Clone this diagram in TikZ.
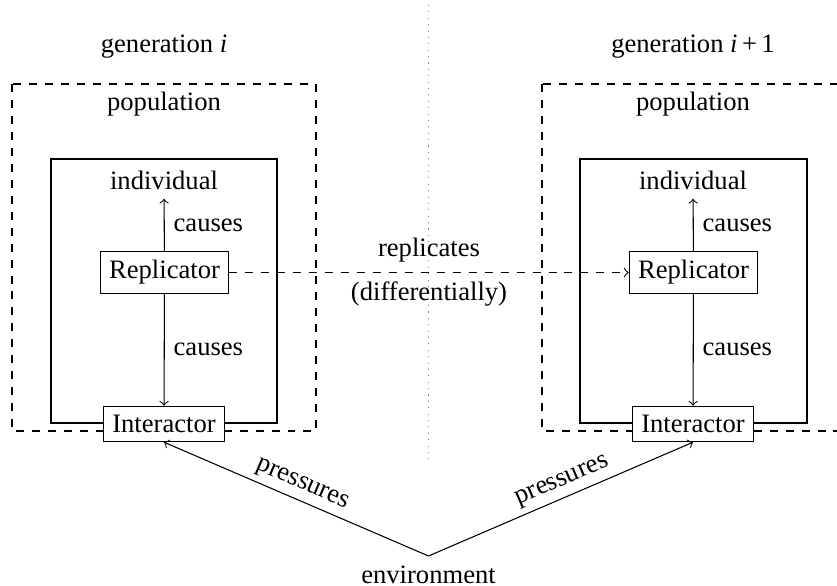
\documentclass[tikz,border=0pt]{standalone}
\usepackage{fontspec}
\setmainfont{Liberation Serif}
\begin{document}
\begin{tikzpicture}[x=0.3759pt,y=-0.3759pt,
  every node/.style={font=\fontsize{10}{12}\selectfont, inner sep=3.33pt},
  boxnode/.style={draw, fill=white},
  popbox/.style={draw, dashed},
  indbox/.style={draw},
  arr/.style={->},
  divider/.style={draw, gray, dotted}]
\useasboundingbox (0,0) rectangle (837,586);

% divider
\coordinate (dtop) at (428.5,5);
\coordinate (dbot) at (428.5,463);
\path[divider] (dtop) -- (dbot);

% generation labels
\node (genL) at (164,47) {generation \textit{i}};
\node (genR) at (693,47) {generation \textit{i}\,+\,1};

% population boxes
\path[popbox] (12,84) rectangle (316,431);
\path[popbox] (542,84) rectangle (846,431);
\node (popL) at (164,104) {population};
\node (popR) at (693,104) {population};

% individual boxes
\path[indbox] (51,159) rectangle (277,423);
\path[indbox] (580,159) rectangle (807,423);

% left column
\node (indL) at (164,180) {individual};
\node[boxnode] (repL) at (164.5,272.5) {Replicator};
\node[boxnode] (intL) at (164,424) {Interactor};
\draw[arr] (repL) -- node[right] {causes} (indL);
\draw[arr] (repL) -- node[right] {causes} (intL);

% right column
\node (indR) at (693,180) {individual};
\node[boxnode] (repR) at (693.5,272.5) {Replicator};
\node[boxnode] (intR) at (693,424) {Interactor};
\draw[arr] (repR) -- node[right] {causes} (indR);
\draw[arr] (repR) -- node[right] {causes} (intR);

% replicates
\draw[arr, dashed] (repL) -- node[above=0.5pt] {replicates} node[below] {(differentially)} (repR);

% environment
\node[anchor=north] (env) at (428.5,556) {environment};
\draw[arr] (env.north) -- node[sloped, above, inner sep=2pt] {pressures} (intL.south);
\draw[arr] (env.north) -- node[sloped, above, inner sep=2pt, pos=0.53] {pressures} (intR.south);
\end{tikzpicture}
\end{document}
